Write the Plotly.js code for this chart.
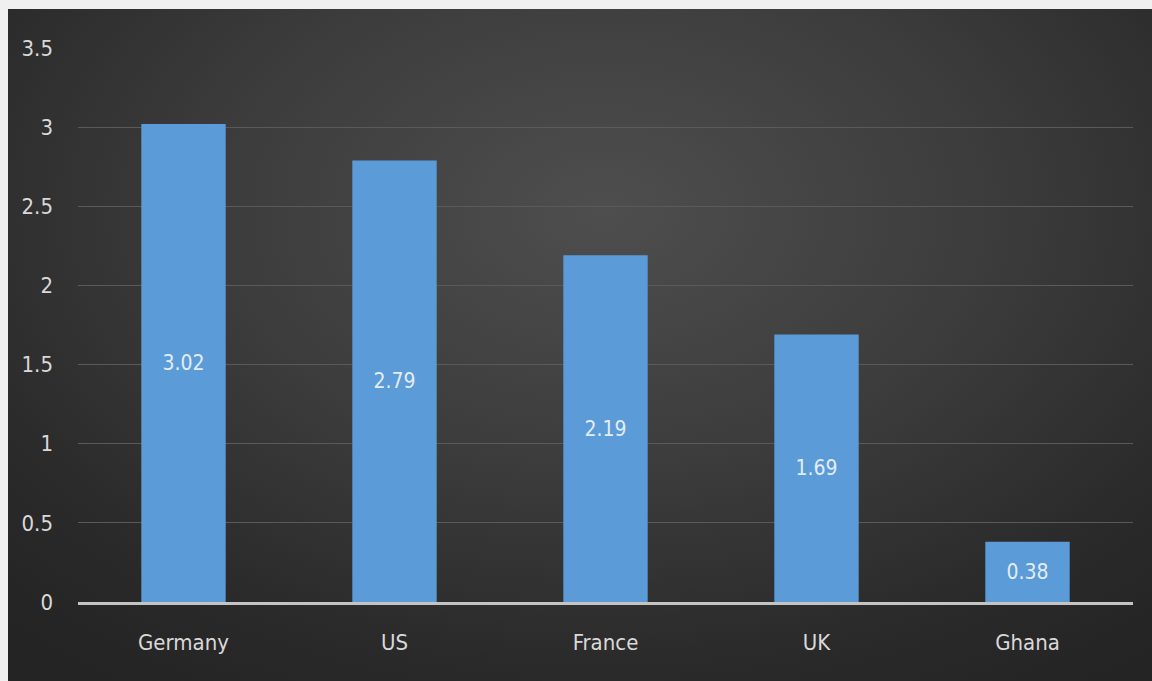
<!DOCTYPE html>
<html>
<head>
<meta charset="utf-8">
<script src="https://cdn.plot.ly/plotly-3.0.1.min.js"></script>
<style>
  html, body { margin: 0; padding: 0; width: 1152px; height: 681px; background: #f0f0f0; overflow: hidden; }
  #panel { position: absolute; left: 8px; top: 9px; width: 1144px; height: 672px;
    background: radial-gradient(ellipse 75% 85% at 52% 30%, #4e4e4e 0%, #3c3c3c 45%, #2a2a2a 80%, #242424 100%); }
  #chart { position: absolute; left: 0; top: 0; width: 1152px; height: 681px; }
</style>
</head>
<body>
<div id="panel"></div>
<div id="chart"></div>
<script>
const categories = ["Germany", "US", "France", "UK", "Ghana"];
const values = [3.02, 2.79, 2.19, 1.69, 0.38];
const valueLabels = ["3.02", "2.79", "2.19", "1.69", "0.38"];
const yTicks = [0, 0.5, 1, 1.5, 2, 2.5, 3, 3.5];
const yTickLabels = ["0", "0.5", "1", "1.5", "2", "2.5", "3", "3.5"];

const fontFam = "'DejaVu Sans Condensed', 'Liberation Sans Narrow', sans-serif";

const trace = {
  type: "bar",
  x: categories,
  y: values,
  text: valueLabels,
  textposition: "inside",
  insidetextanchor: "middle",
  textangle: 0,
  textfont: { family: fontFam, size: 21, color: "#e3ecf7" },
  marker: { color: "#5b9bd8", line: { width: 0 } },
  hoverinfo: "x+y",
  cliponaxis: false
};

const layout = {
  width: 1152,
  height: 681,
  paper_bgcolor: "rgba(0,0,0,0)",
  plot_bgcolor: "rgba(0,0,0,0)",
  margin: { l: 78, r: 19, t: 48, b: 79, pad: 0 },
  bargap: 0.6,
  showlegend: false,
  font: { family: fontFam, color: "#d9d9d9", size: 22 },
  xaxis: {
    type: "category",
    showgrid: false,
    showline: true,
    linecolor: "#c4c4c4",
    linewidth: 3,
    ticks: "",
    ticklabelstandoff: 19,
    tickfont: { family: fontFam, size: 22, color: "#d9d9d9" },
    fixedrange: true
  },
  yaxis: {
    range: [0, 3.5],
    tickmode: "array",
    tickvals: yTicks,
    ticktext: yTickLabels,
    showgrid: true,
    gridcolor: "#5a5a5a",
    gridwidth: 1,
    zeroline: false,
    showline: false,
    ticks: "",
    ticklabelstandoff: 24,
    tickfont: { family: fontFam, size: 22, color: "#d9d9d9" },
    fixedrange: true
  }
};

Plotly.newPlot("chart", [trace], layout, { displayModeBar: false, staticPlot: true });
</script>
</body>
</html>
